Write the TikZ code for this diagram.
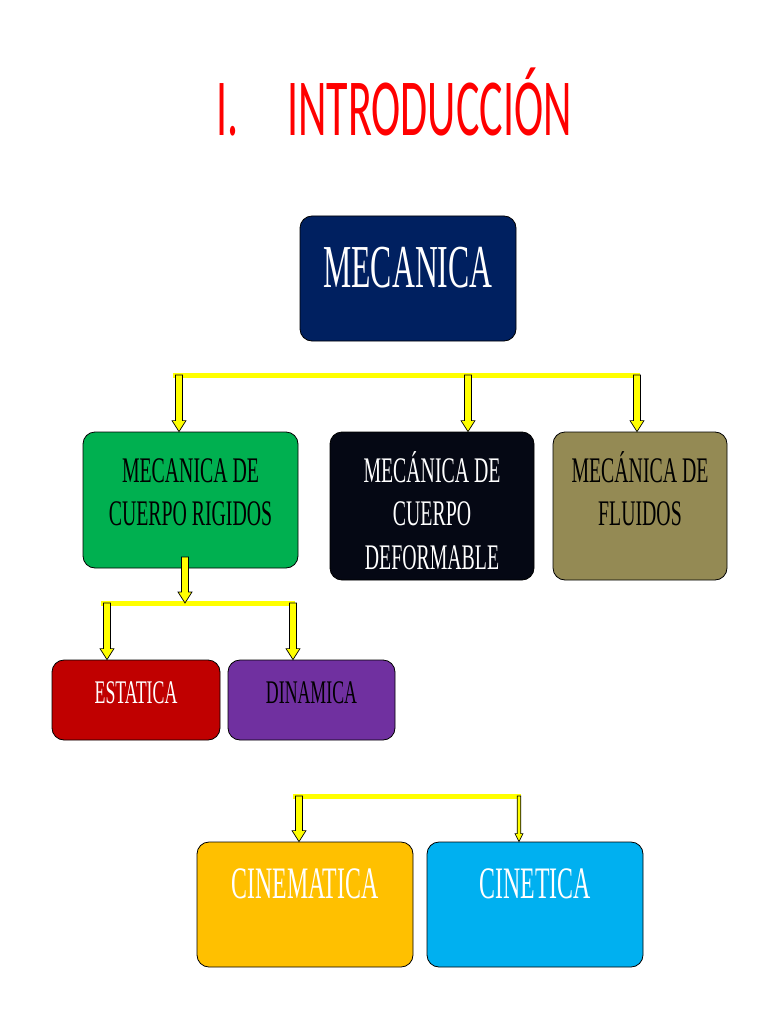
\documentclass[tikz,border=0pt]{standalone}
\usepackage{fontspec}
\usetikzlibrary{calc}
\newfontfamily\boxfont[FakeStretch=0.52]{Liberation Serif}
\newfontfamily\boxfontm[FakeStretch=0.55]{Liberation Serif}
\newfontfamily\boxfonts[FakeStretch=0.54]{Liberation Serif}
\newfontfamily\boxfontl[FakeStretch=0.53]{Liberation Serif}
\newfontfamily\titlefont[FakeStretch=0.543]{Carlito}
\definecolor{navy}{HTML}{002060}
\definecolor{mgreen}{HTML}{00B050}
\definecolor{nearblack}{HTML}{050814}
\definecolor{olive}{HTML}{948A54}
\definecolor{dred}{HTML}{C00000}
\definecolor{mpurple}{HTML}{7030A0}
\definecolor{morange}{HTML}{FFC000}
\definecolor{mblue}{HTML}{00B0F0}
\definecolor{myellow}{HTML}{FFFF00}
\definecolor{tred}{HTML}{FF0000}
\tikzset{
  box/.style={draw=black, line width=0.8pt, rounded corners=12pt, inner sep=0pt},
  boxtext/.style={anchor=base, inner sep=0pt},
  bus/.style={draw=myellow, line width=5pt},
  barrow/.style n args={3}{draw=black, line width=0.7pt, fill=myellow,
    to path={let \p1=(\tikztostart), \p2=(\tikztotarget) in
      (\x1-#1,\y1) -- (\x1-#1,\y2+#3) -- (\x1-#2,\y2+#3) -- (\x1,\y2)
      -- (\x1+#2,\y2+#3) -- (\x1+#1,\y2+#3) -- (\x1+#1,\y1) -- cycle}},
}
\begin{document}
\begin{tikzpicture}[x=1pt,y=-1pt]
\useasboundingbox[fill=white] (0,0) rectangle (768,1024);

% title
\node[anchor=base west, inner sep=0pt, text=tred, font=\titlefont\fontsize{81}{96}\selectfont] (title) at (216,136) {I.\hspace{49pt}INTRODUCCIÓN};

% boxes
\node[box, fill=navy, minimum width=216pt, minimum height=125pt] (mec) at (408,278.5) {};
\node[box, fill=mgreen, minimum width=215pt, minimum height=136pt] (rig) at (190.5,500) {};
\node[box, fill=nearblack, minimum width=204pt, minimum height=148pt] (def) at (432,506) {};
\node[box, fill=olive, minimum width=174pt, minimum height=148pt] (flu) at (640,506) {};
\node[box, fill=dred, minimum width=168pt, minimum height=80pt] (est) at (136,700) {};
\node[box, fill=mpurple, minimum width=167pt, minimum height=80pt] (din) at (311.5,700) {};
\node[box, fill=morange, minimum width=216pt, minimum height=125pt] (cin) at (305,904.5) {};
\node[box, fill=mblue, minimum width=216pt, minimum height=125pt] (cnt) at (535,904.5) {};

% box texts
\node[boxtext, text=white, font=\boxfont] (mect) at (408,287) {\fontsize{61}{70}\selectfont MECANICA};
\node[boxtext, text=black, font=\boxfontm] (rigt) at (190.5,482) {\fontsize{36}{43.8}\selectfont\begin{tabular}[t]{@{}c@{}}MECANICA DE\\CUERPO RIGIDOS\end{tabular}};
\node[boxtext, text=white, font=\boxfontm] (deft) at (432,482) {\fontsize{36}{43.8}\selectfont\begin{tabular}[t]{@{}c@{}}MECÁNICA DE\\CUERPO\\DEFORMABLE\end{tabular}};
\node[boxtext, text=black, font=\boxfontm] (flut) at (640,482) {\fontsize{36}{43.8}\selectfont\begin{tabular}[t]{@{}c@{}}MECÁNICA DE\\FLUIDOS\end{tabular}};
\node[boxtext, text=white, font=\boxfonts] (estt) at (136,703) {\fontsize{33}{40}\selectfont ESTATICA};
\node[boxtext, text=black, font=\boxfonts] (dint) at (311.5,703) {\fontsize{33}{40}\selectfont DINAMICA};
\node[boxtext, text=white, font=\boxfontl] (cint) at (305,898) {\fontsize{45}{54}\selectfont CINEMATICA};
\node[boxtext, text=white, font=\boxfontl] (cntt) at (535,898) {\fontsize{45}{54}\selectfont CINETICA};

% connector coordinates
\coordinate (busAL) at (173,375);
\coordinate (busAR) at (640,375);
\coordinate (a1) at (179,375);
\coordinate (a2) at (468,375);
\coordinate (a3) at (637,375);
\coordinate (g0) at (185,557);
\coordinate (g1) at (185,603);
\coordinate (busBL) at (101,603);
\coordinate (busBR) at (295,603);
\coordinate (b1) at (107,603);
\coordinate (b2) at (293,603);
\coordinate (busCL) at (293,796);
\coordinate (busCR) at (521,796);
\coordinate (c1) at (299,796);
\coordinate (c2) at (519,796);

% buses
\draw[bus] (busAL) -- (busAR);
\draw[bus] (busBL) -- (busBR);
\draw[bus] (busCL) -- (busCR);

% arrows
\draw[barrow={3.5pt}{7pt}{11pt}] (a1) to (a1 |- rig.north);
\draw[barrow={3.5pt}{7pt}{11pt}] (a2) to (a2 |- def.north);
\draw[barrow={3.5pt}{7pt}{11pt}] (a3) to (a3 |- flu.north);
\draw[barrow={3.5pt}{7pt}{11pt}] (g0) to (g1);
\draw[barrow={3.5pt}{7pt}{11pt}] (b1) to (b1 |- est.north);
\draw[barrow={3.5pt}{7pt}{11pt}] (b2) to (b2 |- din.north);
\draw[barrow={3.5pt}{7pt}{11pt}] (c1) to (c1 |- cin.north);
\draw[barrow={1.8pt}{4pt}{8pt}] (c2) to (c2 |- cnt.north);
\end{tikzpicture}
\end{document}
